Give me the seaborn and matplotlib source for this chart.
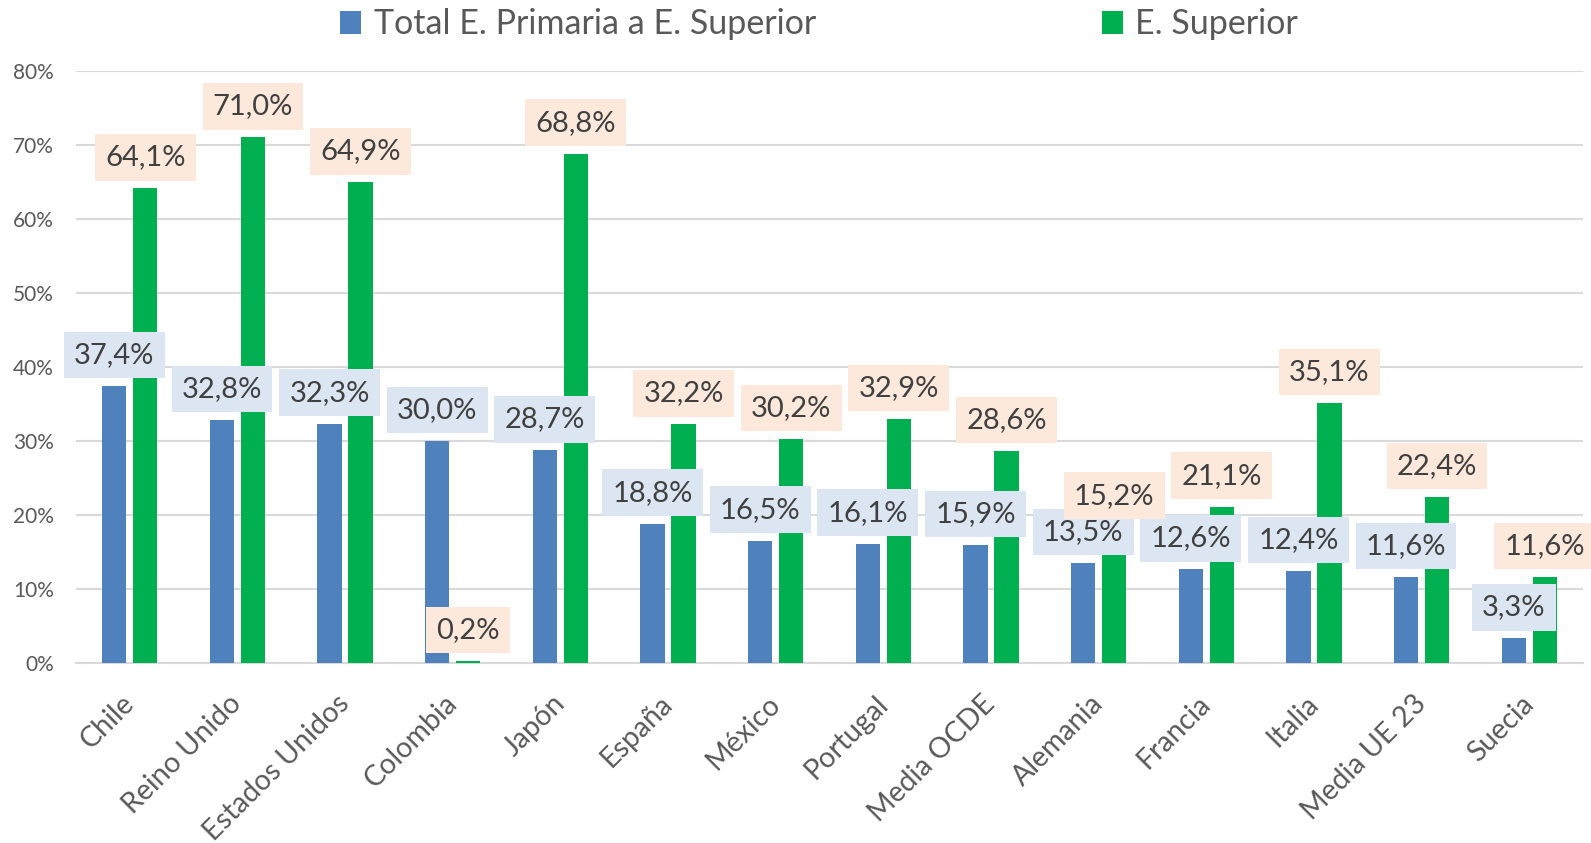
import pandas as pd
import numpy as np
import matplotlib.pyplot as plt
import matplotlib.transforms as mtransforms
import seaborn as sns

# Datos del grafico
paises = ['Chile', 'Reino Unido', 'Estados Unidos', 'Colombia', 'Japón', 'España', 'México',
          'Portugal', 'Media OCDE', 'Alemania', 'Francia', 'Italia', 'Media UE 23', 'Suecia']
total_primaria_superior = [37.4, 32.8, 32.3, 30.0, 28.7, 18.8, 16.5, 16.1, 15.9, 13.5, 12.6, 12.4, 11.6, 3.3]
e_superior = [64.1, 71.0, 64.9, 0.2, 68.8, 32.2, 30.2, 32.9, 28.6, 15.2, 21.1, 35.1, 22.4, 11.6]
series = ['Total E. Primaria a E. Superior', 'E. Superior']
y_ticks = [0, 10, 20, 30, 40, 50, 60, 70, 80]

AZUL = '#4F81BD'
VERDE = '#00B050'
CAJA_AZUL = '#DCE6F2'
CAJA_NARANJA = '#FCE9DB'
GRIS_TEXTO = '#595959'

df = pd.DataFrame({
    'pais': paises * 2,
    'valor': total_primaria_superior + e_superior,
    'serie': [series[0]] * len(paises) + [series[1]] * len(paises),
})

sns.set_style("white")
plt.rcParams['font.family'] = ['Lato', 'DejaVu Sans']

W, H = 1591, 843
fig = plt.figure(figsize=(W / 100, H / 100), dpi=100)
ax = fig.add_axes([76 / W, 1 - 662.7 / H, (1583 - 76) / W, (662.7 - 70.7) / H])

sns.barplot(data=df, x='pais', y='valor', hue='serie', palette=[AZUL, VERDE], saturation=1,
            width=0.576, gap=0.215, linewidth=0, ax=ax, zorder=3)

ax.set_ylim(0, 80)
ax.set_xlim(-0.5, len(paises) - 0.5)
ax.set_yticks(y_ticks)
ax.set_yticklabels([f"{t}%" for t in y_ticks], fontsize=15, color=GRIS_TEXTO)
ax.yaxis.grid(True, color='#D9D9D9', linewidth=1.5, zorder=0)
ax.set_axisbelow(True)
for lado in ['top', 'right', 'left']:
    ax.spines[lado].set_visible(False)
ax.spines['bottom'].set_color('#D9D9D9')
ax.spines['bottom'].set_linewidth(1.5)
ax.tick_params(axis='both', length=0)
ax.tick_params(axis='y', pad=16)
ax.set_xlabel('')
ax.set_ylabel('')

ax.set_xticks(range(len(paises)))
ax.set_xticklabels(paises, rotation=45, ha='right', va='top', rotation_mode='anchor',
                   fontsize=20.5, color=GRIS_TEXTO)
ax.tick_params(axis='x', pad=20)
desplaza = mtransforms.ScaledTranslation(-9 / 100, 0, fig.dpi_scale_trans)
for lbl in ax.get_xticklabels():
    lbl.set_transform(lbl.get_transform() + desplaza)

# Etiquetas de datos con caja (en Alemania la etiqueta verde va mas arriba)
cajas = [CAJA_AZUL, CAJA_NARANJA]
subir_extra = {(1, 'Alemania'): 17}
for i, (cont, caja) in enumerate(zip(ax.containers, cajas)):
    for barra, pais in zip(cont, paises):
        h = barra.get_height()
        xc = barra.get_x() + barra.get_width() / 2
        txt = f"{h:.1f}%".replace('.', ',')
        dy = 22.3 + subir_extra.get((i, pais), 0)
        ax.annotate(txt, (xc, h), xytext=(0, dy), textcoords='offset points',
                    ha='center', va='center', fontsize=21, color='#404040', zorder=5,
                    bbox=dict(boxstyle='square,pad=0.35', fc=caja, ec='none'))

# Leyenda
handles, labels = ax.get_legend_handles_labels()
ax.legend_.remove()
fig.legend(handles, labels, loc='center', bbox_to_anchor=(819 / W, 1 - 24.5 / H), ncol=2,
           frameon=False, fontsize=24.5, labelcolor=GRIS_TEXTO, columnspacing=8.4,
           handlelength=0.62, handleheight=0.62, handletextpad=0.37)

fig.savefig('out.png', dpi=100)
